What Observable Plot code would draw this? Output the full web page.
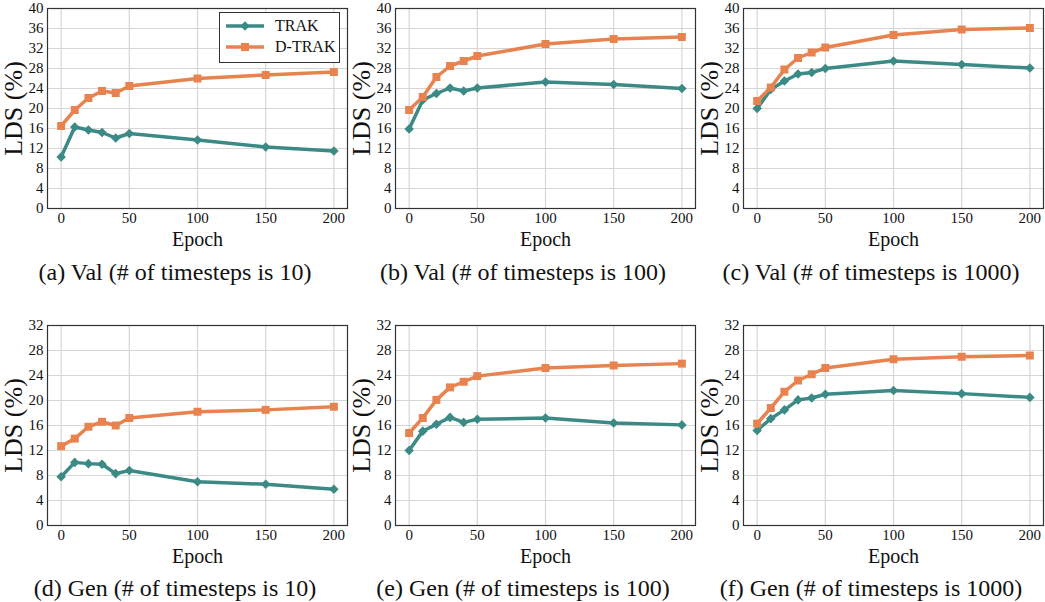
<!DOCTYPE html>
<html>
<head>
<meta charset="utf-8">
<script src="https://cdn.jsdelivr.net/npm/d3@7"></script>
<script src="https://cdn.jsdelivr.net/npm/@observablehq/plot@0.6"></script>
<style>
  html, body { margin: 0; padding: 0; background: #fff; }
  #root { position: relative; width: 1045px; height: 602px; overflow: hidden; background: #fff; font-family: "Liberation Serif", "Times New Roman", Times, serif; }
  .panel { position: absolute; }
  .panel svg { overflow: visible; }
  .panel g[aria-label="x-axis label"] text { font-size: 20px; }
  .panel g[aria-label="y-axis label"] text { font-size: 26px; }
  .caption { position: absolute; width: 348px; text-align: center; font-size: 24px; color: #111; white-space: nowrap; line-height: 1; }
  .legend { position: absolute; left: 219px; top: 12px; width: 121px; height: 51px; border: 1.2px solid #333; background: #fff; box-sizing: border-box; font-size: 16px; color: #111; }
  .legend .row { position: absolute; left: 5px; display: flex; align-items: center; }
  .legend .row span { margin-left: 10px; }
</style>
</head>
<body>
<div id="root"></div>
<script>
// ---- data ----
const epochs = [0, 10, 20, 30, 40, 50, 100, 150, 200];
const methods = ["TRAK", "D-TRAK"];
const xTicks = [0, 50, 100, 150, 200];

const valTrak10   = [10.3, 16.3, 15.7, 15.2, 14.1, 15.0, 13.7, 12.3, 11.5];
const valDtrak10  = [16.5, 19.7, 22.1, 23.5, 23.1, 24.5, 26.0, 26.7, 27.3];
const valTrak100  = [15.9, 21.7, 23.0, 24.1, 23.5, 24.1, 25.3, 24.8, 24.0];
const valDtrak100 = [19.7, 22.3, 26.3, 28.5, 29.5, 30.5, 32.9, 33.9, 34.3];
const valTrak1000  = [20.0, 23.8, 25.5, 26.9, 27.2, 28.0, 29.5, 28.8, 28.1];
const valDtrak1000 = [21.5, 24.2, 27.8, 30.1, 31.2, 32.2, 34.7, 35.8, 36.1];

const genTrak10   = [7.8, 10.1, 9.9, 9.8, 8.3, 8.8, 7.0, 6.6, 5.8];
const genDtrak10  = [12.7, 13.9, 15.8, 16.6, 16.0, 17.2, 18.2, 18.5, 19.0];
const genTrak100  = [12.0, 15.1, 16.2, 17.3, 16.5, 17.0, 17.2, 16.4, 16.1];
const genDtrak100 = [14.8, 17.2, 20.1, 22.1, 23.0, 23.9, 25.2, 25.6, 25.9];
const genTrak1000  = [15.2, 17.1, 18.5, 20.1, 20.4, 21.0, 21.6, 21.1, 20.5];
const genDtrak1000 = [16.3, 18.8, 21.4, 23.2, 24.2, 25.2, 26.6, 27.0, 27.2];

const valYTicks = [0, 4, 8, 12, 16, 20, 24, 28, 32, 36, 40];
const genYTicks = [0, 4, 8, 12, 16, 20, 24, 28, 32];

const captions = [
  "(a) Val (# of timesteps is 10)",
  "(b) Val (# of timesteps is 100)",
  "(c) Val (# of timesteps is 1000)",
  "(d) Gen (# of timesteps is 10)",
  "(e) Gen (# of timesteps is 100)",
  "(f) Gen (# of timesteps is 1000)"
];

const teal = "#3b8a86";
const orange = "#e8834f";
const serif = "'Liberation Serif', 'Times New Roman', Times, serif";

// ---- build ----
const panels = [
  {trak: valTrak10, dtrak: valDtrak10, yTicks: valYTicks},
  {trak: valTrak100, dtrak: valDtrak100, yTicks: valYTicks},
  {trak: valTrak1000, dtrak: valDtrak1000, yTicks: valYTicks},
  {trak: genTrak10, dtrak: genDtrak10, yTicks: genYTicks},
  {trak: genTrak100, dtrak: genDtrak100, yTicks: genYTicks},
  {trak: genTrak1000, dtrak: genDtrak1000, yTicks: genYTicks}
];

const rowTops = [0, 317];
const colLefts = [0, 348, 696];
const captionTops = [260, 576];

const root = document.getElementById("root");

panels.forEach((p, i) => {
  const row = Math.floor(i / 3), col = i % 3;
  const trakRows = epochs.map((e, j) => ({epoch: e, lds: p.trak[j], method: methods[0]}));
  const dtrakRows = epochs.map((e, j) => ({epoch: e, lds: p.dtrak[j], method: methods[1]}));
  const ymax = p.yTicks[p.yTicks.length - 1];
  const chart = Plot.plot({
    width: 348,
    height: 250,
    marginLeft: 47,
    marginRight: 1,
    marginTop: 8,
    marginBottom: 42,
    style: {fontFamily: serif, fontSize: "15px", color: "#111", background: "transparent"},
    x: {domain: [-10, 210]},
    y: {domain: [0, ymax]},
    marks: [
      Plot.gridX(xTicks, {stroke: "#d6d6d6", strokeOpacity: 1, strokeWidth: 1.2}),
      Plot.gridY(p.yTicks, {stroke: "#d6d6d6", strokeOpacity: 1, strokeWidth: 1.2}),
      Plot.axisX(xTicks, {tickSize: 0, tickPadding: 4, label: "Epoch", labelAnchor: "center", labelArrow: "none", labelOffset: 37}),
      Plot.axisY(p.yTicks, {tickSize: 0, tickPadding: 4, label: "LDS (%)", labelAnchor: "center", labelArrow: "none", labelOffset: 44}),
      Plot.line(trakRows, {x: "epoch", y: "lds", stroke: teal, strokeWidth: 3.5}),
      Plot.dot(trakRows, {x: "epoch", y: "lds", symbol: "diamond2", r: 4.3, fill: teal, stroke: "none"}),
      Plot.line(dtrakRows, {x: "epoch", y: "lds", stroke: orange, strokeWidth: 3.5}),
      Plot.dot(dtrakRows, {x: "epoch", y: "lds", symbol: "square", r: 4.5, fill: orange, stroke: "none"}),
      Plot.frame({stroke: "#333", strokeWidth: 1.2})
    ]
  });
  const wrap = document.createElement("div");
  wrap.className = "panel";
  wrap.style.left = colLefts[col] + "px";
  wrap.style.top = rowTops[row] + "px";
  wrap.appendChild(chart);
  root.appendChild(wrap);

  const cap = document.createElement("div");
  cap.className = "caption";
  cap.style.left = colLefts[col] + 1 + "px";
  cap.style.top = captionTops[row] + "px";
  cap.textContent = captions[i];
  root.appendChild(cap);
});

// legend (panel a)
const legend = document.createElement("div");
legend.className = "legend";
const symbols = {"TRAK": d3.symbolDiamond2, "D-TRAK": d3.symbolSquare};
const colors = {"TRAK": teal, "D-TRAK": orange};
methods.forEach((m, k) => {
  const r = document.createElement("div");
  r.className = "row";
  r.style.top = (4 + k * 21) + "px";
  const svg = d3.create("svg").attr("width", 40).attr("height", 16);
  svg.append("line").attr("x1", 1).attr("x2", 39).attr("y1", 8).attr("y2", 8).attr("stroke", colors[m]).attr("stroke-width", 3.5);
  svg.append("path").attr("transform", "translate(20,8)").attr("d", d3.symbol(symbols[m], m === "TRAK" ? Math.PI * 4.3 * 4.3 : Math.PI * 4.5 * 4.5)()).attr("fill", colors[m]);
  r.appendChild(svg.node());
  const t = document.createElement("span");
  t.textContent = m;
  r.appendChild(t);
  legend.appendChild(r);
});
root.appendChild(legend);
</script>
</body>
</html>
